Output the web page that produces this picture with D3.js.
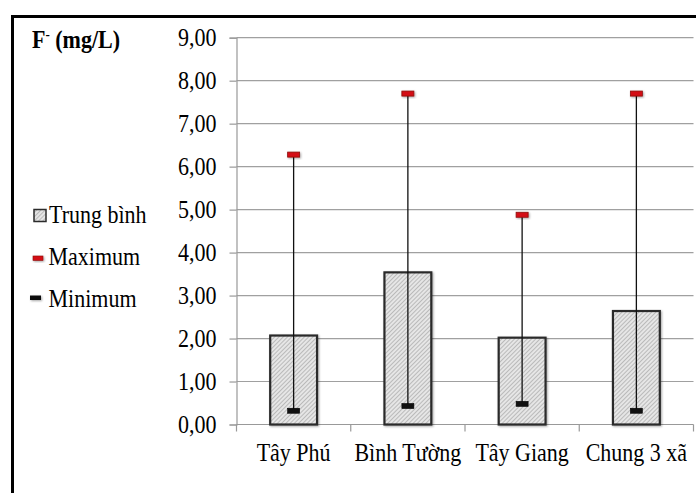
<!DOCTYPE html>
<html>
<head>
<meta charset="utf-8">
<script src="https://cdn.jsdelivr.net/npm/d3@7"></script>
<style>
  html, body { margin: 0; padding: 0; background: #fff; }
  svg { display: block; }
  svg text { font-family: "Liberation Serif", "Times New Roman", Times, serif !important; fill: #000; }
</style>
</head>
<body>
<svg id="chart" width="696" height="493"></svg>
<script>
// Fluoride concentration per commune (mg/L)
const categories = ["Tây Phú", "Bình Tường", "Tây Giang", "Chung 3 xã"];
const meanValues = [2.07, 3.54, 2.02, 2.64];
const maxValues  = [6.28, 7.70, 4.88, 7.70];
const minValues  = [0.32, 0.43, 0.48, 0.32];
const yTicks = [0, 1, 2, 3, 4, 5, 6, 7, 8, 9];
const legendItems = ["Trung bình", "Maximum", "Minimum"];

const SERIF = "'Liberation Serif', 'Times New Roman', Times, serif";
const FS = 22;
const svg = d3.select("#chart").style("font-family", SERIF);
const W = 696, H = 493;
const plot = { left: 236.5, right: 693.5, top: 37.7, bottom: 424.5 };
const stretch = "scale(1,1.13)";

// outer frame (only top and left edges fall inside the view)
svg.append("rect").attr("x", 12.5).attr("y", 16.5)
  .attr("width", W + 20).attr("height", H + 20)
  .attr("fill", "none").attr("stroke", "#000").attr("stroke-width", 3);

// hatch pattern for the mean bars
const defs = svg.append("defs");
const pat = defs.append("pattern").attr("id", "hatch")
  .attr("patternUnits", "userSpaceOnUse").attr("width", 3).attr("height", 3)
  .attr("patternTransform", "rotate(45)");
pat.append("rect").attr("width", 3).attr("height", 3).attr("fill", "#e6e6e6");
pat.append("line").attr("x1", 0).attr("y1", 0).attr("x2", 0).attr("y2", 3)
  .attr("stroke", "#8e8e8e").attr("stroke-width", 1);

const shadow = defs.append("filter").attr("id", "shadow")
  .attr("x", "-50%").attr("y", "-50%").attr("width", "200%").attr("height", "200%");
shadow.append("feDropShadow").attr("dx", 1).attr("dy", 1).attr("stdDeviation", 1)
  .attr("flood-color", "#000").attr("flood-opacity", 0.35);

const x = d3.scaleBand().domain(categories)
  .range([plot.left, plot.right]).paddingInner(0.59).paddingOuter(0.295);
const y = d3.scaleLinear().domain([0, 9]).range([plot.bottom, plot.top]);

// horizontal gridlines
svg.append("g").selectAll("line").data(yTicks.filter(d => d > 0)).join("line")
  .attr("x1", plot.left).attr("x2", plot.right)
  .attr("y1", d => y(d)).attr("y2", d => y(d))
  .attr("stroke", "#a0a0a0").attr("stroke-width", 1.2);

// y axis
const yAxis = svg.append("g").attr("transform", `translate(${plot.left},0)`)
  .call(d3.axisLeft(y).tickValues(yTicks).tickSize(7).tickPadding(13)
    .tickFormat(d => d3.format(".2f")(d).replace(".", ",")));
yAxis.attr("font-family", SERIF);
yAxis.select(".domain").attr("stroke", "#999").attr("stroke-width", 1.2);
yAxis.selectAll(".tick line").attr("stroke", "#999").attr("stroke-width", 1.2);
yAxis.selectAll(".tick text").attr("font-size", FS).style("font-family", SERIF)
  .attr("fill", "#000").attr("transform", stretch);

// x axis with ticks at category boundaries
const xAxisG = svg.append("g").attr("transform", `translate(0,${plot.bottom})`);
xAxisG.append("line").attr("x1", plot.left).attr("x2", plot.right)
  .attr("stroke", "#999").attr("stroke-width", 1.2);
const boundaries = categories.map(c => x(c) - x.step() * x.paddingInner() / 2)
  .concat([plot.right]);
xAxisG.selectAll("line.tk").data(boundaries).join("line").attr("class", "tk")
  .attr("x1", d => d).attr("x2", d => d).attr("y1", 0).attr("y2", 7)
  .attr("stroke", "#999").attr("stroke-width", 1.2);
xAxisG.selectAll("text").data(categories).join("text")
  .attr("text-anchor", "middle").attr("font-size", FS).style("font-family", SERIF)
  .attr("transform", d => `translate(${x(d) + x.bandwidth() / 2},36) ${stretch}`)
  .text(d => d);

// mean bars
const rows = categories.map((c, i) => ({ c, mean: meanValues[i], max: maxValues[i], min: minValues[i] }));
svg.append("g").selectAll("rect").data(rows).join("rect")
  .attr("x", d => x(d.c)).attr("width", x.bandwidth())
  .attr("y", d => y(d.mean)).attr("height", d => y(0) - y(d.mean))
  .attr("fill", "url(#hatch)").attr("stroke", "#2b2b2b").attr("stroke-width", 2.2)
  .attr("filter", "url(#shadow)");

// min–max range lines
const cx = d => x(d.c) + x.bandwidth() / 2;
svg.append("g").selectAll("line").data(rows).join("line")
  .attr("x1", cx).attr("x2", cx)
  .attr("y1", d => y(d.min)).attr("y2", d => y(d.max))
  .attr("stroke", "#111").attr("stroke-width", 1.3);

// maximum markers
svg.append("g").selectAll("rect").data(rows).join("rect")
  .attr("x", d => cx(d) - 6).attr("y", d => y(d.max) - 2.5)
  .attr("width", 12).attr("height", 5)
  .attr("fill", "#d40f14").attr("stroke", "#8c0a0a").attr("stroke-width", 0.8)
  .attr("filter", "url(#shadow)");

// minimum markers
svg.append("g").selectAll("rect").data(rows).join("rect")
  .attr("x", d => cx(d) - 6).attr("y", d => y(d.min) - 2.5)
  .attr("width", 12).attr("height", 5)
  .attr("fill", "#111").attr("stroke", "#000").attr("stroke-width", 0.6);

// title
const title = svg.append("text").attr("transform", `translate(32,48) ${stretch}`)
  .attr("font-size", FS).attr("font-weight", "bold").style("font-family", SERIF);
title.append("tspan").text("F");
title.append("tspan").attr("dy", -8).attr("font-size", 13).text("-");
title.append("tspan").attr("dy", 8).text(" (mg/L)");

// legend
const legend = svg.append("g");
const ly = [216, 258, 300];
legend.append("rect").attr("x", 34).attr("y", ly[0] - 6.5).attr("width", 12).attr("height", 12)
  .attr("fill", "url(#hatch)").attr("stroke", "#2b2b2b").attr("stroke-width", 1.5);
legend.append("rect").attr("x", 33).attr("y", ly[1] - 2).attr("width", 10).attr("height", 4.5)
  .attr("fill", "#d40f14").attr("stroke", "#8c0a0a").attr("stroke-width", 0.6)
  .attr("filter", "url(#shadow)");
legend.append("rect").attr("x", 30).attr("y", ly[2] - 4.5).attr("width", 11).attr("height", 4.5)
  .attr("fill", "#111").attr("filter", "url(#shadow)");
legend.selectAll("text").data(legendItems).join("text")
  .attr("font-size", FS).style("font-family", SERIF)
  .attr("transform", (d, i) => `translate(${i === 0 ? 49 : 48.5},${ly[i] + (i === 2 ? 6.5 : 7)}) ${stretch}`)
  .text(d => d);
</script>
</body>
</html>
